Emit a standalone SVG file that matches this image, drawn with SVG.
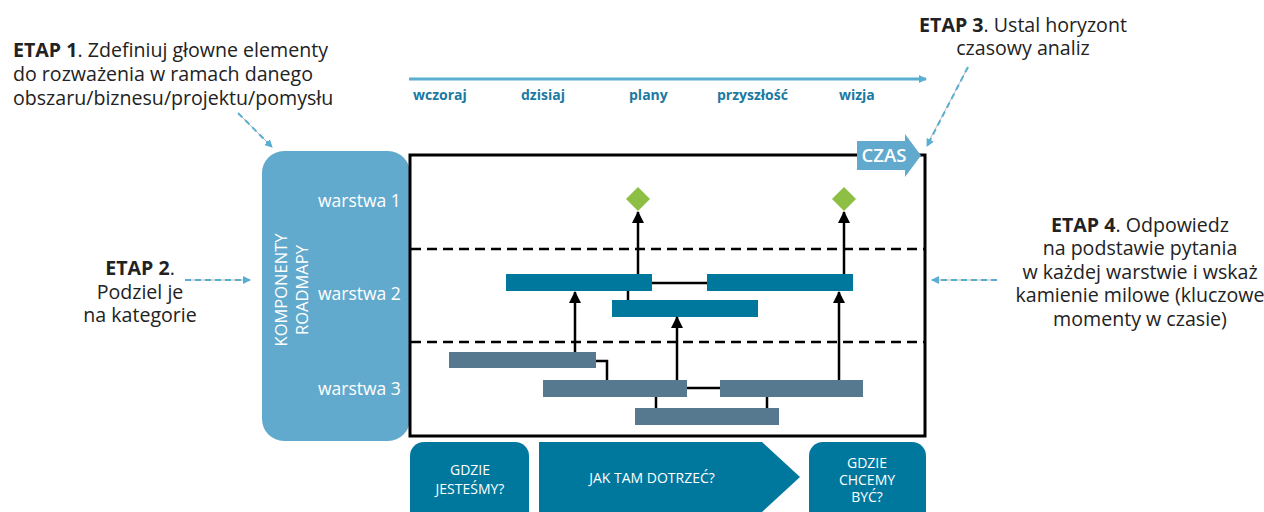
<svg xmlns="http://www.w3.org/2000/svg" width="1264" height="512" viewBox="0 0 1264 512">
<defs>
<style>
.t{font-family:"Open Sans","Noto Sans",sans-serif;fill:#222;font-size:19.6px}
.b{font-weight:700}
.tl{font-family:"Open Sans",sans-serif;fill:#1a7aa3;font-size:14px;font-weight:700}
.w{font-family:"Open Sans",sans-serif;fill:#fff;font-size:17.5px}
.wb{font-family:"Open Sans",sans-serif;fill:#fff;font-size:14px;text-anchor:middle}
.l2{fill:#00789e}
.l3{fill:#56798f}
.c{stroke:#000;stroke-width:2.5;fill:none}
.dash{stroke:#000;stroke-width:2.5;stroke-dasharray:10 6}
.hint{stroke:#5aaed1;stroke-width:2;stroke-dasharray:6 4;fill:none}
.under{stroke:#aaa;stroke-width:0.8;fill:none}
</style>
<marker id="ah" markerWidth="8" markerHeight="8" refX="7" refY="4" orient="auto" markerUnits="userSpaceOnUse" viewBox="0 0 8 8">
<path d="M0,0 L8,4 L0,8 Z" fill="#5aaed1"/>
</marker>
<marker id="bk" markerWidth="12" markerHeight="12" refX="11" refY="6" orient="auto" markerUnits="userSpaceOnUse" viewBox="0 0 12 12">
<path d="M0,0 L12,6 L0,12 Z" fill="#000"/>
</marker>
</defs>

<g id="etap1">
<text class="t" x="13" y="57"><tspan class="b">ETAP 1</tspan>. Zdefiniuj głowne elementy</text>
<text class="t" x="13" y="81">do rozważenia w ramach danego</text>
<text class="t" x="13" y="105">obszaru/biznesu/projektu/pomysłu</text>
</g>
<g id="etap2" text-anchor="middle">
<text class="t" x="140" y="275"><tspan class="b">ETAP 2</tspan>.</text>
<text class="t" x="140" y="299">Podziel je</text>
<text class="t" x="140" y="322">na kategorie</text>
</g>
<g id="etap3" text-anchor="middle">
<text class="t" x="1023" y="32"><tspan class="b">ETAP 3</tspan>. Ustal horyzont</text>
<text class="t" x="1023" y="55">czasowy analiz</text>
</g>
<g id="etap4" text-anchor="middle">
<text class="t" x="1140" y="232"><tspan class="b">ETAP 4</tspan>. Odpowiedz</text>
<text class="t" x="1140" y="255">na podstawie pytania</text>
<text class="t" x="1140" y="279">w każdej warstwie i wskaż</text>
<text class="t" x="1140" y="302">kamienie milowe (kluczowe</text>
<text class="t" x="1140" y="326">momenty w czasie)</text>
</g>

<g id="timeline">
<line x1="409" y1="79" x2="926" y2="79" stroke="#5aaed1" stroke-width="3" marker-end="url(#ah)"/>
<text class="tl" x="413" y="100">wczoraj</text>
<text class="tl" x="521" y="100">dzisiaj</text>
<text class="tl" x="629" y="100">plany</text>
<text class="tl" x="717" y="100">przyszłość</text>
<text class="tl" x="839" y="100">wizja</text>
</g>

<g id="komponenty">
<rect x="262" y="151" width="148" height="290" rx="22" fill="#62aacd"/>
<text class="w" x="0" y="0" transform="translate(287,290) rotate(-90)" text-anchor="middle" style="font-size:16.5px">KOMPONENTY</text>
<text class="w" x="0" y="0" transform="translate(308,290) rotate(-90)" text-anchor="middle" style="font-size:16.5px">ROADMAPY</text>
<text class="w" x="318" y="207">warstwa 1</text>
<text class="w" x="318" y="300">warstwa 2</text>
<text class="w" x="318" y="395">warstwa 3</text>
</g>

<g id="frame">
<rect x="410" y="155" width="515" height="281" fill="none" stroke="#000" stroke-width="3"/>
<line class="dash" x1="411" y1="249" x2="924" y2="249"/>
<line class="dash" x1="411" y1="342" x2="924" y2="342"/>
</g>

<g id="czas">
<path d="M857,141 H905 V134 L921,155.5 L905,177 V170 H857 Z" fill="#62aacd"/>
<text class="w" x="884" y="162" text-anchor="middle" style="font-size:18.5px;font-weight:600">CZAS</text>
</g>

<g id="milestones" fill="#8dbf45">
<path d="M638,187 L650,199 L638,211 L626,199 Z"/>
<path d="M844,187 L856,199 L844,211 L832,199 Z"/>
</g>

<g id="bars">
<rect class="l2" x="506" y="274" width="146" height="17"/>
<rect class="l2" x="707" y="274" width="146" height="17"/>
<rect class="l2" x="612" y="300" width="146" height="17"/>
<rect class="l3" x="449" y="352" width="147" height="16"/>
<rect class="l3" x="543" y="380" width="144" height="17"/>
<rect class="l3" x="720" y="380" width="143" height="17"/>
<rect class="l3" x="635" y="408" width="144" height="17"/>
</g>

<g id="connectors">
<line class="c" x1="652" y1="283" x2="707" y2="283"/>
<line class="c" x1="628" y1="291" x2="628" y2="300"/>
<path class="c" d="M596,361 H607 V380"/>
<line class="c" x1="687" y1="388" x2="720" y2="388"/>
<line class="c" x1="656" y1="397" x2="656" y2="408"/>
<line class="c" x1="767" y1="397" x2="767" y2="408"/>
<line class="c" x1="638" y1="274" x2="638" y2="212" marker-end="url(#bk)"/>
<line class="c" x1="844" y1="274" x2="844" y2="212" marker-end="url(#bk)"/>
<line class="c" x1="575" y1="352" x2="575" y2="292" marker-end="url(#bk)"/>
<line class="c" x1="677" y1="380" x2="677" y2="317" marker-end="url(#bk)"/>
<line class="c" x1="839" y1="380" x2="839" y2="292" marker-end="url(#bk)"/>
<line class="under" x1="238" y1="113" x2="268" y2="143"/>
<line class="hint" x1="238" y1="113" x2="272" y2="147" marker-end="url(#ah)"/>
<line class="under" x1="185" y1="280" x2="244" y2="280"/>
<line class="hint" x1="185" y1="280" x2="250" y2="280" marker-end="url(#ah)"/>
<line class="under" x1="968" y1="67" x2="930" y2="139"/>
<line class="hint" x1="968" y1="67" x2="927" y2="146" marker-end="url(#ah)"/>
<line class="under" x1="997" y1="280" x2="938" y2="280"/>
<line class="hint" x1="997" y1="280" x2="932" y2="280" marker-end="url(#ah)"/>
</g>

<g id="bottom">
<rect x="410" y="442" width="119" height="90" rx="14" fill="#00789e"/>
<path d="M539,442 H762 L800,477 L762,512 H539 Z" fill="#00789e"/>
<rect x="809" y="442" width="117" height="90" rx="14" fill="#00789e"/>
<text class="wb" x="470" y="475">GDZIE</text>
<text class="wb" x="470" y="494">JESTEŚMY?</text>
<text class="wb" x="652" y="483">JAK TAM DOTRZEĆ?</text>
<text class="wb" x="867" y="468">GDZIE</text>
<text class="wb" x="867" y="485">CHCEMY</text>
<text class="wb" x="867" y="502">BYĆ?</text>
</g>
</svg>
